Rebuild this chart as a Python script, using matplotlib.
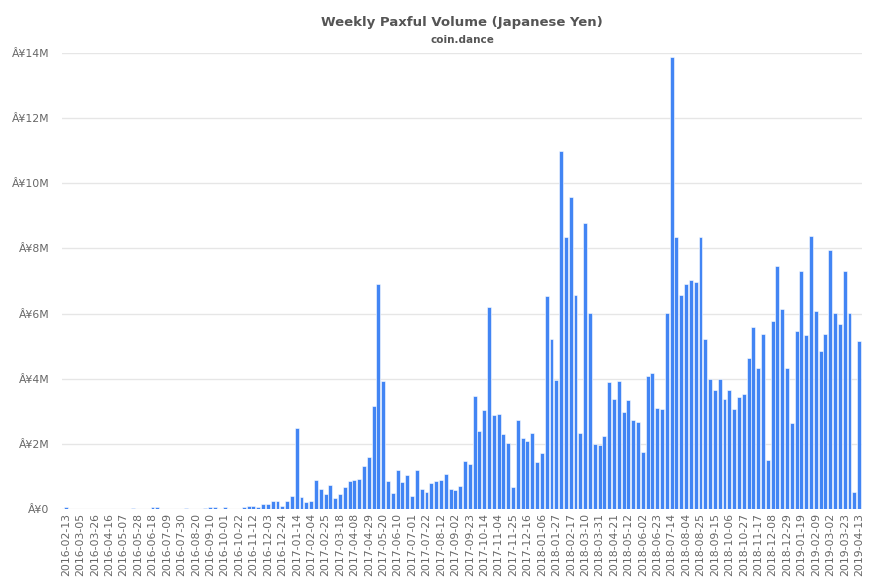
import numpy as np
import pandas as pd
import matplotlib
matplotlib.use("Agg")
import matplotlib.pyplot as plt
from matplotlib.ticker import FuncFormatter

# weekly dates, one bar per week
weeks = pd.date_range("2016-02-13", periods=166, freq="7D").strftime("%Y-%m-%d").tolist()

# volume in millions of yen
vol_2016 = [0.06, 0, 0, 0, 0, 0, 0, 0, 0, 0, 0, 0, 0, 0, 0.03, 0, 0, 0, 0.07, 0.05,
            0, 0, 0, 0, 0, 0.03, 0, 0, 0, 0.03, 0.06, 0.06, 0, 0.05, 0, 0.01, 0, 0.06, 0.08, 0.10,
            0.06, 0.15, 0.15, 0.24, 0.24, 0.08, 0.26, 0.40]
vol_2017 = [2.49, 0.36, 0.20, 0.25, 0.89, 0.62, 0.45, 0.73, 0.33, 0.46, 0.67, 0.86, 0.90, 0.91,
            1.33, 1.59, 3.17, 6.90, 3.93, 0.86, 0.49, 1.21, 0.82, 1.05, 0.39, 1.21, 0.62, 0.51,
            0.81, 0.85, 0.89, 1.08, 0.62, 0.58, 0.70, 1.46, 1.37, 3.46, 2.38, 3.05, 6.19, 2.89,
            2.92, 2.31, 2.03, 0.68, 2.74, 2.17, 2.10, 2.33, 1.43, 1.71]
vol_2018 = [6.54, 5.22, 3.96, 10.98, 8.34, 9.57, 6.57, 2.32, 8.77, 6.03, 1.99, 1.97, 2.24, 3.89,
            3.39, 3.92, 2.98, 3.34, 2.72, 2.66, 1.74, 4.08, 4.17, 3.09, 3.07, 6.02, 13.88, 8.34,
            6.58, 6.90, 7.02, 6.97, 8.35, 5.21, 3.98, 3.65, 3.98, 3.38, 3.64, 3.06, 3.43, 3.54,
            4.65, 5.59, 4.32, 5.37, 1.50, 5.78, 7.46, 6.15, 4.32]
vol_2019 = [2.65, 5.47, 7.32, 5.34, 8.39, 6.08, 4.86, 5.38, 7.94, 6.02, 5.69, 7.32, 6.02, 0.51, 5.16]

volume = np.array(vol_2016 + vol_2017 + vol_2018 + vol_2019) * 1e6

fig = plt.figure(figsize=(8.77, 5.85), dpi=100)
ax = fig.add_axes([0.0707, 0.1299, 0.9123, 0.7795])

x = np.arange(len(weeks))
ax.bar(x, volume, width=0.82, color="#4285f4", edgecolor="white", linewidth=0.4, zorder=3)

ax.set_xlim(-0.83, len(weeks) - 0.38)
ax.set_ylim(0, 14e6)
ax.set_yticks(np.arange(0, 14.1e6, 2e6))
ax.yaxis.set_major_formatter(FuncFormatter(lambda v, p: "Â¥0" if v == 0 else "Â¥%dM" % round(v / 1e6)))
ax.grid(axis="y", color="#e6e6e6", linewidth=1, zorder=0)

ax.set_xticks(x[::3])
ax.set_xticklabels(weeks[::3], rotation=90, fontsize=7.8, color="#666666")
ax.tick_params(axis="y", labelsize=7.8, labelcolor="#666666", length=0, pad=9)
ax.tick_params(axis="x", length=0, pad=3)
for s in ax.spines.values():
    s.set_visible(False)

# title is centred over the plot area
cx = 0.0707 + 0.9123 / 2
fig.text(cx, 0.962, "Weekly Paxful Volume (Japanese Yen)", ha="center", va="center",
         fontsize=9.5, fontweight="bold", color="#555555")
fig.text(cx, 0.932, "coin.dance", ha="center", va="center",
         fontsize=7.5, fontweight="bold", color="#555555")

fig.savefig("out.png", dpi=100)
